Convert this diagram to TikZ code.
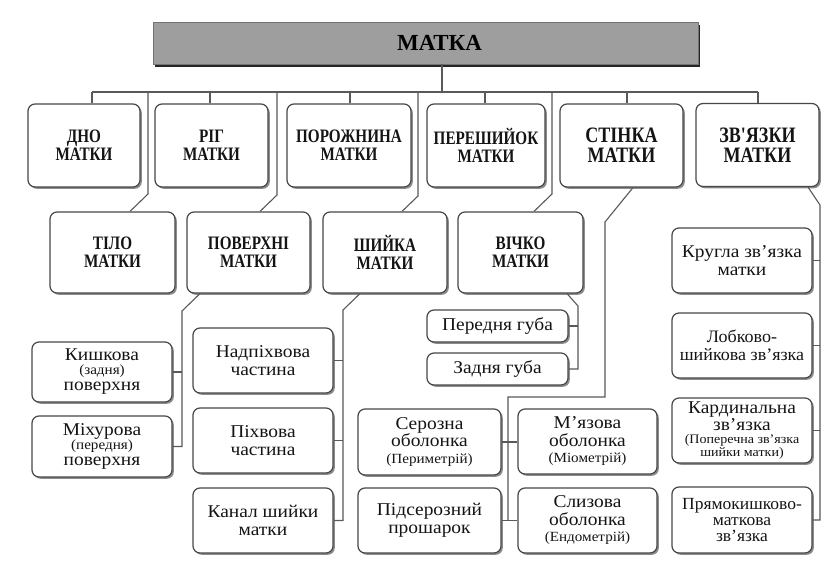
\documentclass[tikz,border=0pt]{standalone}
\usepackage{fontspec}
\setmainfont{Liberation Serif}
\newfontfamily\hfont[FakeStretch=0.8]{Liberation Serif}
\newfontfamily\bfont[FakeStretch=0.82]{Liberation Serif}
\newfontfamily\lfont[FakeStretch=1.08]{Liberation Serif}
\newfontfamily\mfont[FakeStretch=1.03]{Liberation Serif}
\usetikzlibrary{shadows}
\newcommand\ptext[1]{{\fontsize{14}{13}\selectfont #1}}
\begin{document}
\begin{tikzpicture}[x=1pt,y=-1pt,
  box/.style={draw=black!72, line width=1.2pt, rounded corners=7pt, fill=white,
    inner sep=0pt, align=center, text=black!92,
    drop shadow={shadow xshift=1.8pt, shadow yshift=-1.8pt, fill=black!45, opacity=1}},
  head/.style={box, font=\hfont\bfseries\fontsize{19}{18}\selectfont},
  bighead/.style={box, font=\bfont\bfseries\fontsize{22}{20}\selectfont},
  sub/.style={box, font=\lfont\fontsize{18}{17.5}\selectfont},
  subn/.style={box, font=\mfont\fontsize{17}{16}\selectfont},
  titlebox/.style={draw=black!55, line width=0.8pt, fill=black!38, inner sep=0pt,
    font=\bfseries\fontsize{23}{23}\selectfont, text=black,
    drop shadow={shadow xshift=2.2pt, shadow yshift=-2.6pt, fill=black!85, opacity=1}},
  wire/.style={draw=black!65, line width=1.1pt}]
\useasboundingbox (0,0) rectangle (839,567);
\fill[white] (0,0) rectangle (839,567);

% title
\node[titlebox, minimum width=545pt, minimum height=42pt] (title) at (425.5,43) {\hspace*{28pt}МАТКА};

% row 1
\node[head, minimum width=112pt, minimum height=83pt] (dno) at (84,145.5) {ДНО\\МАТКИ};
\node[head, minimum width=113pt, minimum height=83pt] (rig) at (211.5,145.5) {РІГ\\МАТКИ};
\node[head, minimum width=124pt, minimum height=83pt] (porozh) at (349,145.5) {ПОРОЖНИНА\\МАТКИ};
\node[head, minimum width=118pt, minimum height=83pt] (peresh) at (486,145.5) {ПЕРЕШИЙОК\\МАТКИ};
\node[bighead, minimum width=123pt, minimum height=83pt] (stinka) at (621.5,145.5) {СТІНКА\\МАТКИ};
\node[bighead, minimum width=123pt, minimum height=83pt] (zviazky) at (757.5,145) {ЗВ'ЯЗКИ\\МАТКИ};

% row 2
\node[head, minimum width=125pt, minimum height=81pt] (tilo) at (112.5,252.5) {ТІЛО\\МАТКИ};
\node[head, minimum width=123pt, minimum height=81pt] (poverkhni) at (248.5,252.5) {ПОВЕРХНІ\\МАТКИ};
\node[head, minimum width=124pt, minimum height=81pt] (shyika) at (385,252.5) {ШИЙКА\\МАТКИ};
\node[head, minimum width=125pt, minimum height=81pt] (vichko) at (520.5,252.5) {ВІЧКО\\МАТКИ};

% surfaces
\node[sub, minimum width=140pt, minimum height=60pt] (kyshkova) at (102,372) {Кишкова\\[-3.5pt]\ptext{(задня)}\\[-1.5pt]поверхня};
\node[sub, minimum width=140pt, minimum height=61pt] (mikhurova) at (102,446.5) {Міхурова\\[-3.5pt]\ptext{(передня)}\\[-1.5pt]поверхня};

% cervix parts
\node[sub, minimum width=140pt, minimum height=65pt] (nadpikh) at (263,360.5) {Надпіхвова\\частина};
\node[sub, minimum width=140pt, minimum height=65pt] (pikh) at (263,440.5) {Піхвова\\частина};
\node[sub, minimum width=140pt, minimum height=65pt] (kanal) at (263,520.5) {Канал шийки\\матки};

% lips
\node[sub, minimum width=141pt, minimum height=32pt] (perednia) at (497.5,326) {Передня губа};
\node[sub, minimum width=141pt, minimum height=32pt] (zadnia) at (497.5,369) {Задня губа};

% wall layers
\node[sub, minimum width=143pt, minimum height=66pt] (serozna) at (429.5,442) {Серозна\\оболонка\\[-1pt]\ptext{(Периметрій)}};
\node[sub, minimum width=143pt, minimum height=65pt] (pidseroz) at (429.5,520.5) {Підсерозний\\прошарок};
\node[sub, minimum width=139pt, minimum height=65pt] (miazova) at (587.5,441.5) {М’язова\\оболонка\\[-1pt]\ptext{(Міометрій)}};
\node[sub, minimum width=139pt, minimum height=65pt] (slyzova) at (587.5,520.5) {Слизова\\оболонка\\[-1pt]\ptext{(Ендометрій)}};

% ligaments
\node[sub, minimum width=140pt, minimum height=65pt] (kruhla) at (742,260.5) {Кругла зв’язка\\матки};
\node[subn, minimum width=140pt, minimum height=65pt, font=\mfont\fontsize{17.5}{17.5}\selectfont] (lobkovo) at (742,345.5) {Лобково-\\шийкова зв’язка};
\node[sub, minimum width=140pt, minimum height=65pt, font=\lfont\fontsize{18}{15}\selectfont] (kardyn) at (742,430.5)
  {Кардинальна\\зв’язка\\[-2pt]{\fontsize{13}{12}\selectfont (Поперечна зв’язка}\\[-2.5pt]{\fontsize{13}{12}\selectfont шийки матки)}};
\node[subn, minimum width=140pt, minimum height=66pt] (priam) at (742,520) {Прямокишково-\\маткова\\зв’язка};

% ---- connectors ----
\coordinate (busL) at (92,92);
\coordinate (busR) at (758,92);
\coordinate (stem) at (442,92);
\draw[wire] (busL) -- (busR);
\draw[wire] (title.south -| stem) -- (stem);

\coordinate (d1) at (92,92);
\coordinate (d2) at (210,92);
\coordinate (d3) at (350,92);
\coordinate (d4) at (485,92);
\coordinate (d5) at (627,92);
\coordinate (d6) at (758,92);
\draw[wire] (d1) -- (d1 |- dno.north);
\draw[wire] (d2) -- (d2 |- rig.north);
\draw[wire] (d3) -- (d3 |- porozh.north);
\draw[wire] (d4) -- (d4 |- peresh.north);
\draw[wire] (d5) -- (d5 |- stinka.north);
\draw[wire] (d6) -- (d6 |- zviazky.north);

% long drops to row 2
\coordinate (ta) at (148,92);  \coordinate (tb) at (148,194); \coordinate (tc) at (130,0);
\draw[wire] (ta) -- (tb) -- (tilo.north -| tc);
\coordinate (pa) at (277,92);  \coordinate (pb) at (277,195); \coordinate (pc) at (260,0);
\draw[wire] (pa) -- (pb) -- (poverkhni.north -| pc);
\coordinate (sa) at (418,92);  \coordinate (sb) at (418,196); \coordinate (sc) at (402,0);
\draw[wire] (sa) -- (sb) -- (shyika.north -| sc);
\coordinate (va) at (552,92);  \coordinate (vb) at (552,194); \coordinate (vc) at (534,0);
\draw[wire] (va) -- (vb) -- (vichko.north -| vc);

% surfaces
\coordinate (p1) at (200,0); \coordinate (p2) at (182,311);
\draw[wire] (poverkhni.south -| p1) -- (p2) -- (p2 |- mikhurova.east) -- (mikhurova.east);
\draw[wire] (p2 |- kyshkova.east) -- (kyshkova.east);

% cervix
\coordinate (s1) at (360,0); \coordinate (s2) at (343,310);
\draw[wire] (shyika.south -| s1) -- (s2) -- (s2 |- kanal.east) -- (kanal.east);
\draw[wire] (s2 |- nadpikh.east) -- (nadpikh.east);
\draw[wire] (s2 |- pikh.east) -- (pikh.east);

% lips
\coordinate (v1) at (567,0); \coordinate (v2) at (578,306);
\draw[wire] (vichko.south -| v1) -- (v2) -- (v2 |- zadnia.east) -- (zadnia.east);
\draw[wire] (v2 |- perednia.east) -- (perednia.east);

% wall
\coordinate (c1) at (633,0); \coordinate (c2) at (605,222);
\coordinate (c3) at (605,397); \coordinate (c4) at (508,397);
\draw[wire] (stinka.south -| c1) -- (c2) -- (c3) -- (c4) -- (c4 |- pidseroz.east);
\draw[wire] (serozna.east) -- (serozna.east -| miazova.west);
\draw[wire] (pidseroz.east) -- (pidseroz.east -| slyzova.west);

% ligaments
\coordinate (z1) at (808,0); \coordinate (z2) at (820,205);
\draw[wire] (zviazky.south -| z1) -- (z2) -- (z2 |- priam.east) -- (priam.east);
\draw[wire] (z2 |- kruhla.east) -- (kruhla.east);
\draw[wire] (z2 |- lobkovo.east) -- (lobkovo.east);
\draw[wire] (z2 |- kardyn.east) -- (kardyn.east);
\end{tikzpicture}
\end{document}
